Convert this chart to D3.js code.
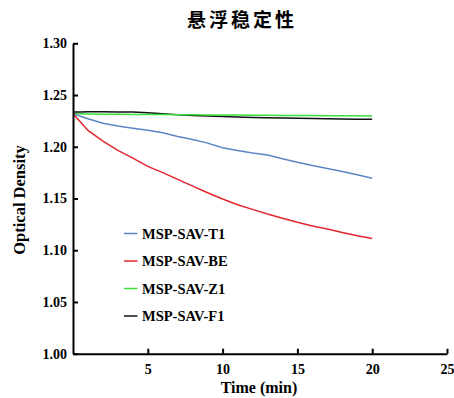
<!DOCTYPE html>
<html>
<head>
<meta charset="utf-8">
<script src="https://cdn.jsdelivr.net/npm/d3@7"></script>
<style>
  body { margin: 0; background: #fff; }
  svg text { font-family: "Liberation Serif", "Times New Roman", serif; font-weight: bold; fill: #000; }
</style>
</head>
<body>
<div id="chart"></div>
<script>
// data
var time = [0, 0.5, 1, 2, 3, 4, 5, 6, 7, 8, 9, 10, 11, 12, 13, 14, 15, 16, 17, 18, 19, 20];
var t1 = [1.232, 1.2295, 1.227, 1.2228, 1.220, 1.218, 1.216, 1.2135, 1.210, 1.207, 1.2035, 1.199,
          1.1965, 1.194, 1.192, 1.1885, 1.185, 1.182, 1.179, 1.176, 1.173, 1.1695];
var be = [1.232, 1.224, 1.2158, 1.2055, 1.1965, 1.189, 1.181, 1.175, 1.1685, 1.162, 1.1555, 1.1495,
          1.144, 1.1395, 1.135, 1.131, 1.127, 1.1235, 1.1205, 1.1172, 1.114, 1.1113];
var z1 = [1.232, 1.2318, 1.2316, 1.2315, 1.2314, 1.2313, 1.2312, 1.2311, 1.231, 1.2309, 1.2308, 1.2307,
          1.2306, 1.2305, 1.2304, 1.2303, 1.2302, 1.2301, 1.2300, 1.2299, 1.2299, 1.2298];
var f1 = [1.2335, 1.2337, 1.2338, 1.2338, 1.2337, 1.2335, 1.2328, 1.2318, 1.231, 1.2303, 1.2297, 1.2292,
          1.2287, 1.2283, 1.228, 1.2277, 1.2275, 1.2272, 1.227, 1.2268, 1.2266, 1.2265];
var seriesNames = ['MSP-SAV-T1', 'MSP-SAV-BE', 'MSP-SAV-Z1', 'MSP-SAV-F1'];
var seriesColors = ['#5b86c6', '#e3262b', '#3bdf3b', '#111111'];
var xTicks = [5, 10, 15, 20, 25];
var yTicks = [1.00, 1.05, 1.10, 1.15, 1.20, 1.25, 1.30];

var width = 454, height = 398;

var svg = d3.select('#chart').append('svg')
	.attr('width', width)
	.attr('height', height);

var x = d3.scaleLinear().domain([0, 25]).range([73, 447]);
var y = d3.scaleLinear().domain([1.0, 1.3]).range([353.7, 43.3]);

// title
svg.append('text')
	.attr('x', 242)
	.attr('y', 27)
	.attr('text-anchor', 'middle')
	.style('font-family', '"Noto Sans CJK SC", sans-serif')
	.style('font-size', '19px')
	.style('letter-spacing', '3px')
	.text('悬浮稳定性');

// lines
var series = [t1, be, z1, f1];
var line = d3.line()
	.x(function(d, i) { return x(time[i]); })
	.y(function(d) { return y(d); });

// draw black first so the coloured ones sit on top like the original
[3, 2, 0, 1].forEach(function(k) {
	svg.append('path')
		.datum(series[k])
		.attr('fill', 'none')
		.attr('stroke', seriesColors[k])
		.attr('stroke-width', 1.5)
		.attr('d', line);
});

// axes, ticks pointing inward
var xAxis = d3.axisBottom(x).tickValues(xTicks).tickSizeInner(-5).tickSizeOuter(0).tickPadding(10);
var yAxis = d3.axisLeft(y).tickValues(yTicks).tickSizeInner(-5).tickSizeOuter(0).tickPadding(6)
	.tickFormat(d3.format('.2f'));

var gx = svg.append('g').attr('transform', 'translate(0,' + y(1.0) + ')').call(xAxis);
var gy = svg.append('g').attr('transform', 'translate(' + x(0) + ',0)').call(yAxis);

[gx, gy].forEach(function(g) {
	g.select('.domain').attr('stroke', '#000').attr('stroke-width', 2);
	g.selectAll('.tick line').attr('stroke', '#000').attr('stroke-width', 2);
	g.selectAll('.tick text')
		.style('font-family', '"Liberation Serif", "Times New Roman", serif')
		.style('font-weight', 'bold')
		.style('font-size', '14px')
		.attr('fill', '#000');
});

// axis titles
svg.append('text')
	.attr('x', 259)
	.attr('y', 393)
	.attr('text-anchor', 'middle')
	.style('font-size', '16px')
	.text('Time (min)');

svg.append('text')
	.attr('transform', 'translate(25,200) rotate(-90)')
	.attr('text-anchor', 'middle')
	.style('font-size', '16.5px')
	.text('Optical Density');

// legend
var legend = svg.selectAll('g.legend').data(seriesNames).enter()
	.append('g')
	.attr('class', 'legend')
	.attr('transform', function(d, i) { return 'translate(124,' + (233.5 + i * 27.5) + ')'; });

legend.append('line')
	.attr('x1', 0).attr('x2', 13.5)
	.attr('y1', 0).attr('y2', 0)
	.attr('stroke', function(d, i) { return seriesColors[i]; })
	.attr('stroke-width', 1.5);

legend.append('text')
	.attr('x', 18)
	.attr('y', 5)
	.style('font-size', '14.5px')
	.text(function(d) { return d; });
</script>
</body>
</html>
